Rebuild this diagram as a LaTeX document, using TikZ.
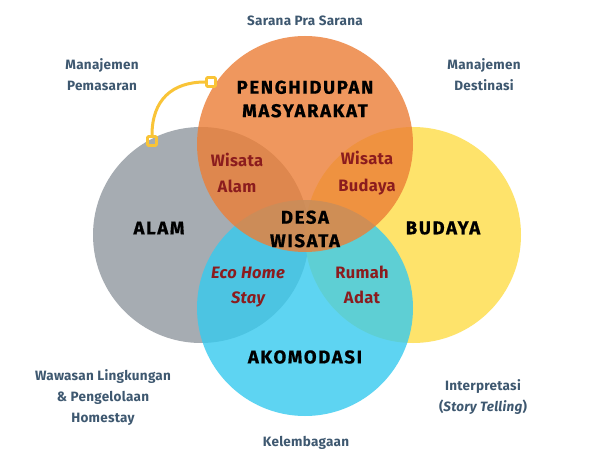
\documentclass[tikz,border=0pt]{standalone}
\usepackage{fontspec}
\setmainfont{Fira Sans}
\newfontfamily\titlefont{Fira Sans}[LetterSpace=9, BoldFeatures={FakeBold=0.7}]
\newfontfamily\labelfont{Fira Sans}[LetterSpace=2]
\definecolor{cgray}{RGB}{166,172,178}
\definecolor{cyellow}{RGB}{254,227,107}
\definecolor{cblue}{RGB}{54,202,239}
\definecolor{corange}{RGB}{236,126,54}
\definecolor{darkred}{RGB}{139,28,30}
\definecolor{slate}{RGB}{62,88,112}
\definecolor{connyellow}{RGB}{249,196,55}
\begin{document}
\begin{tikzpicture}[x=1pt,y=-1pt,
  venn/.style={circle, minimum size=216pt, inner sep=0pt, draw=none},
  title/.style={font=\titlefont\bfseries\fontsize{18.5}{23.5}\selectfont, text=black, align=center},
  inner/.style={font=\labelfont\bfseries\fontsize{16.5}{26.5}\selectfont, text=darkred, align=center},
  side/.style={font=\labelfont\bfseries\fontsize{13.5}{21}\selectfont, text=slate, align=center},
  knob/.style={rectangle, draw=connyellow, line width=2.8pt, minimum size=9pt, inner sep=0pt, rounded corners=1pt},
  link/.style={draw=connyellow, line width=3pt}]
\useasboundingbox[fill=white] (0,0) rectangle (600,465);
% circles
\node[venn, fill=cgray] (alam) at (201,235) {};
\node[venn, fill=cyellow] (budaya) at (413,235) {};
\node[venn, fill=cblue, fill opacity=0.8] (akomodasi) at (305,308) {};
\node[venn, fill=corange, fill opacity=0.8] (penghidupan) at (305,144) {};
% connector
\node[knob] (k1) at (211,82) {};
\node[knob] (k2) at (152,141) {};
\draw[link] (k1.west) .. controls (172,82) and (152,100) .. (k2.north);
% titles
\node[title] (tPeng) at (305,99) {PENGHIDUPAN\\MASYARAKAT};
\node[title] (tAlam) at (159,228) {ALAM};
\node[title] (tBud) at (443,228) {BUDAYA};
\node[title] (tAko) at (305,357) {AKOMODASI};
\node[title] (tDesa) at (305,229) {DESA\\WISATA};
% intersections
\node[inner] (wAlam) at (237,173) {Wisata\\Alam};
\node[inner] (wBud) at (367,173) {Wisata\\Budaya};
\node[inner, font=\labelfont\bfseries\itshape\fontsize{16.5}{25}\selectfont] (eco) at (248,287) {Eco Home\\Stay};
\node[inner, font=\labelfont\bfseries\fontsize{16.5}{25}\selectfont] (rumah) at (362,285) {Rumah\\Adat};
% side labels
\node[side] (sarana) at (305,21) {Sarana Pra Sarana};
\node[side] (mpem) at (102,75) {Manajemen\\Pemasaran};
\node[side] (mdes) at (484,75) {Manajemen\\Destinasi};
\node[side] (waw) at (103,398) {Wawasan Lingkungan\\\& Pengelolaan\\Homestay};
\node[side] (interp) at (483,397) {Interpretasi\\(\textit{Story Telling})};
\node[side] (kel) at (306,443) {Kelembagaan};
\end{tikzpicture}
\end{document}
